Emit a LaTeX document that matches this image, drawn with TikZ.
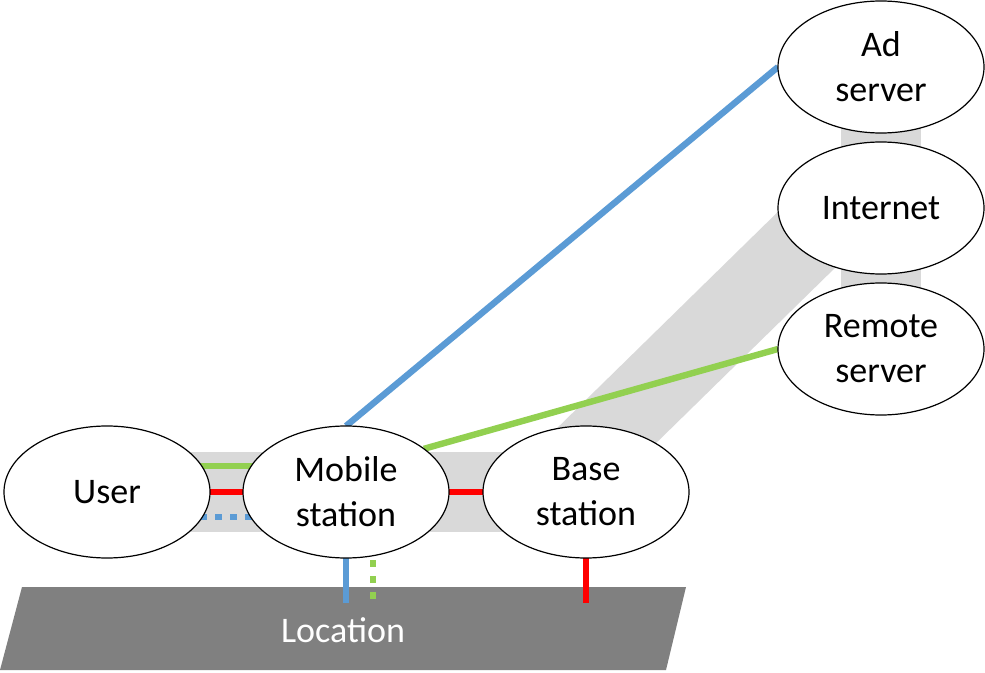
\documentclass[tikz,border=0pt]{standalone}
\usepackage{fontspec}
\setmainfont{Carlito}
\usetikzlibrary{shapes.geometric,backgrounds}
\definecolor{bandgray}{HTML}{D9D9D9}
\definecolor{locgray}{HTML}{808080}
\definecolor{lblue}{HTML}{5B9BD5}
\definecolor{lgreen}{HTML}{92D050}
\definecolor{lred}{HTML}{FF0000}
\begin{document}
\begin{tikzpicture}[x={(0.5pt,0)}, y={(0,-0.5pt)},
  ent/.style={ellipse, draw=black, line width=0.6pt, fill=white,
    minimum width=103pt, minimum height=66pt, inner sep=0pt, outer sep=0pt,
    align=center, font=\fontsize{18}{22.5}\selectfont},
  bandline/.style={line width=40pt, draw=bandgray},
  conn/.style={line width=3.2pt},
  dotsh/.style={dash pattern=on 3.5pt off 4pt},
  dotsv/.style={dash pattern=on 3.5pt off 4.5pt}]
\useasboundingbox (0,0) rectangle (985,673);
\node[ent] (user) at (107,492) {User};
\node[ent] (ms) at (346,492) {Mobile\\station};
\node[ent] (bs) at (586,492) {Base\\station};
\node[ent] (ad) at (881,67) {Ad\\server};
\node[ent] (inet) at (881,208) {Internet};
\node[ent] (rs) at (881,349) {Remote\\server};
\coordinate (lb) at (346,603);
\coordinate (g1) at (373,560);
\coordinate (g2) at (373,600);
\coordinate (lr) at (586,603);
\coordinate (d1) at (110,517);
\begin{pgfonlayer}{background}
  \fill[locgray] (0,670) -- (22,587) -- (686,587) -- (666,670) -- cycle;
  \node[text=white, font=\fontsize{18}{22.5}\selectfont] (loc) at (343,630) {Location};
  \draw[bandline] (user.center) -- (bs.center);
  \draw[bandline] (ad.center) -- (rs.center);
  \draw[bandline] ([xshift=-18.5pt]bs.center) -- ([xshift=-21pt]inet.center);
  \draw[conn, lgreen] ([yshift=13pt]user.center) -- ([yshift=13pt]ms.center);
  \draw[conn, lred] (user.center) -- (ms.center);
  \draw[conn, lblue, dotsh] (d1) -- ([yshift=-12.5pt]ms.center);
  \draw[conn, lred] (ms.center) -- (bs.center);
  \draw[conn, lblue] (ms.center) -- (lb);
  \draw[conn, lgreen, dotsv] (g1) -- (g2);
  \draw[conn, lred] (bs.center) -- (lr);
  \draw[conn, lblue] (ms.north) -- (ad.west);
  \draw[conn, lgreen] (ms.29) -- (rs.west);
\end{pgfonlayer}
\end{tikzpicture}
\end{document}
